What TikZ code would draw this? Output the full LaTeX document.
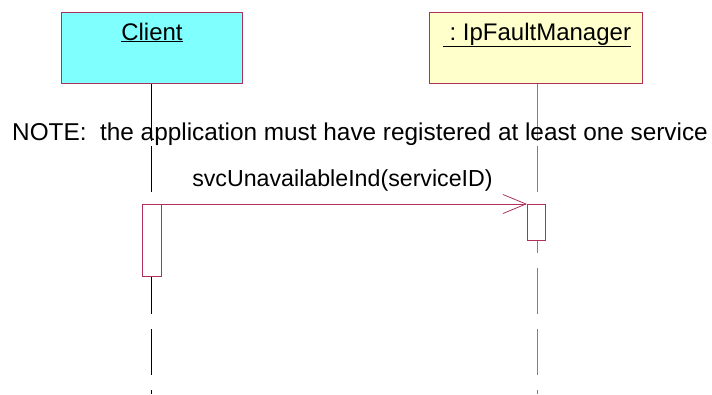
\documentclass[tikz,border=0pt]{standalone}
\usepackage{fontspec}
\setmainfont{Liberation Sans}
\usetikzlibrary{arrows.meta}
\definecolor{umlborder}{HTML}{B0305C}
\definecolor{clientfill}{HTML}{80FFFF}
\definecolor{mgrfill}{HTML}{FFFFCC}
\definecolor{mgrline}{HTML}{808080}
\tikzset{
  objbox/.style={draw=umlborder, line width=1pt, minimum width=#1, minimum height=71pt, inner sep=0pt, anchor=north west},
  lbl/.style={font=\fontsize{24}{28}\selectfont, inner sep=0pt, anchor=base},
  actbox/.style={draw=umlborder, fill=white, line width=0.8pt, inner sep=0pt, anchor=north west},
  life/.style={line width=0.8pt},
  lifedash/.style={line width=0.8pt, dash pattern=on 46pt off 15pt},
  msg/.style={draw=umlborder, line width=0.8pt, -{Straight Barb[length=23pt,width=19pt,line width=0.8pt]}}
}
\begin{document}
\begin{tikzpicture}[x=1pt,y=-1pt]
\useasboundingbox (0,0) rectangle (712,394);
% object boxes
\node[objbox=181pt, fill=clientfill] (client) at (61,12) {};
\node[objbox=213pt, fill=mgrfill] (mgr) at (429,12) {};
\node[lbl] (clientlbl) at (152,40) {\underline{Client}};
\node[lbl] (mgrlbl) at (537,40) {\underline{\ :\ IpFaultManager}};
% lifeline coordinates
\coordinate (cbreak) at (151,141);
\coordinate (cdash) at (151,146);
\coordinate (cend) at (151,394);
\coordinate (mbreak) at (537,141);
\coordinate (mdash) at (537,146);
\coordinate (mend) at (537,394);
\draw[life] (client.south -| cbreak) -- (cbreak);
\draw[lifedash] (cdash) -- (cend);
\draw[life, mgrline] (mgr.south -| mbreak) -- (mbreak);
\draw[lifedash, mgrline] (mdash) -- (mend);
% note and message text
\node[lbl, anchor=base west, font=\fontsize{24.35}{28}\selectfont] (note) at (12,140) {NOTE:\ \ the application must have registered at least one service};
\node[lbl, font=\fontsize{23.2}{28}\selectfont] (msglbl) at (342.5,186) {svcUnavailableInd(serviceID)};
% activations
\node[actbox, minimum width=19pt, minimum height=72pt] (cact) at (142,204) {};
\node[actbox, minimum width=18pt, minimum height=36pt] (mact) at (527,204) {};
% message
\draw[msg] (cact.north east) -- (mact.north west);
\end{tikzpicture}
\end{document}
